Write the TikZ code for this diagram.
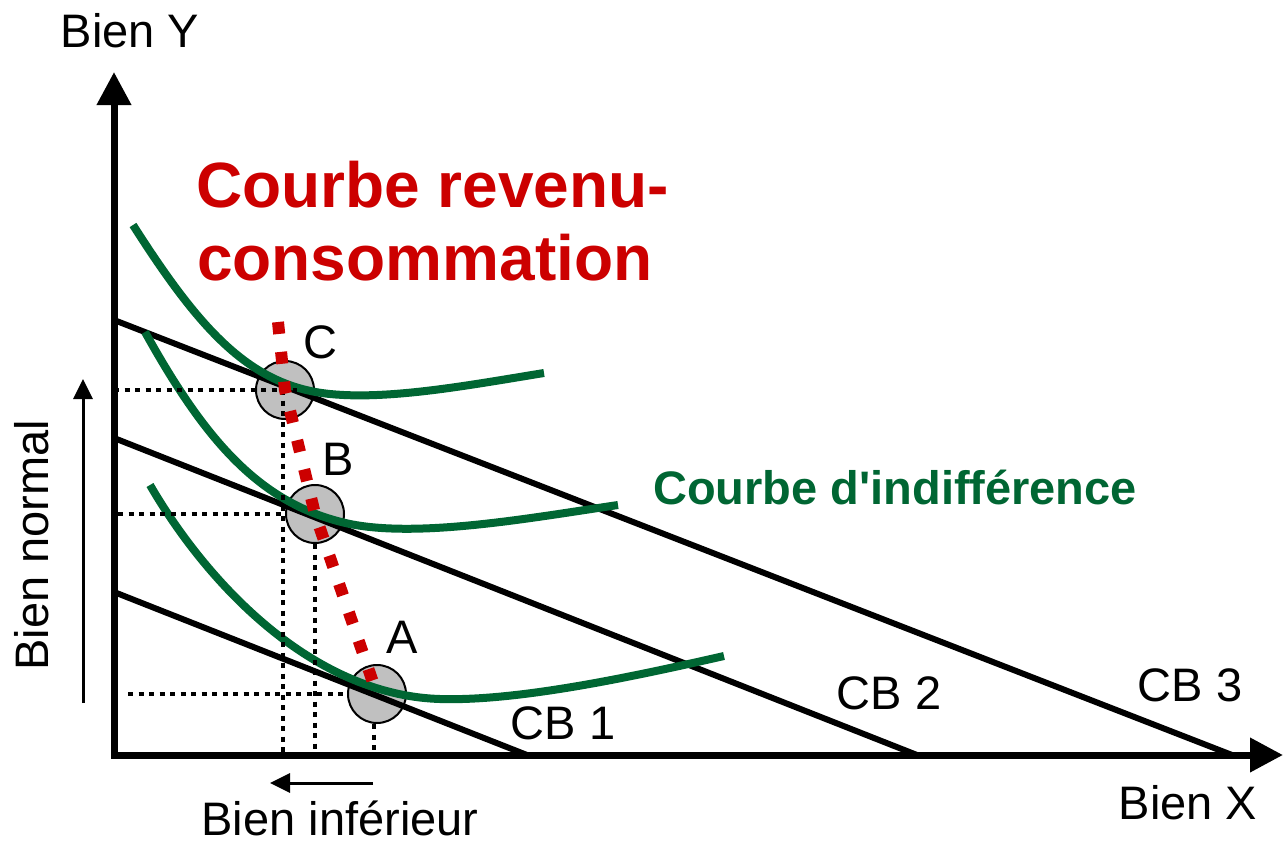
\documentclass[tikz,border=0pt]{standalone}
\usepackage{fontspec}
\setmainfont{Liberation Sans}
\definecolor{crcred}{RGB}{204,0,0}
\definecolor{icgreen}{RGB}{0,102,51}
\definecolor{ptgray}{RGB}{192,192,192}
\usetikzlibrary{arrows.meta,positioning}
\tikzset{
  axis/.style={line width=7pt,line join=miter,
               {Triangle[length=33pt,width=33pt]}-{Triangle[length=33pt,width=33pt]}},
  budget/.style={line width=6pt},
  icurve/.style={line width=8pt,icgreen},
  guide/.style={line width=3.5pt,dash pattern=on 5pt off 5.5pt},
  thinarrow/.style={line width=3pt,-{Triangle[length=20pt,width=19pt]}},
  lbl/.style={inner sep=0pt,font=\fontsize{47}{56}\selectfont},
}

\begin{document}
\begin{tikzpicture}[x=1pt,y=-1pt,
    optimum/.style={circle,draw,fill=ptgray,line width=2pt,
                    minimum size=58pt,inner sep=0pt},
    crcline/.style={line width=12pt,crcred,dash pattern=on 12pt off 18pt},
  ]
  \useasboundingbox (0,0) rectangle (1288,843);

  % axes
  \coordinate (origin) at (114,755);
  \coordinate (ytip)   at (114,72);
  \coordinate (xtip)   at (1283,755);
  \draw[axis] (ytip) -- (origin) -- (xtip);
  \node[lbl] (biensY) at (130,31)  {Bien Y};
  \node[lbl] (biensX) at (1188,803) {Bien X};

  % optima
  \node[optimum] (C) at (285,390) {};
  \node[optimum] (B) at (315,514) {};
  \node[optimum] (A) at (377,694) {};

  % budget lines
  \foreach \y/\x in {592/527,438/917,320/1232}
    \draw[budget] (114,\y) -- (\x,755);
  \node[lbl] (cb1) at (563,723)  {CB 1};
  \node[lbl] (cb2) at (889,693)  {CB 2};
  \node[lbl] (cb3) at (1190,685) {CB 3};

  % indifference curves
  \draw[icurve] (133,225) .. controls (200,330) and (250,386) .. (330,394)
                .. controls (390,400) and (470,385) .. (544,373);
  \draw[icurve] (145,332) .. controls (205,440) and (260,505) .. (350,524)
                .. controls (420,538) and (530,518) .. (618,505);
  \draw[icurve] (150,485) .. controls (205,580) and (310,695) .. (440,699)
                .. controls (520,701.5) and (640,675) .. (724,656);
  \node[inner sep=0pt,icgreen,font=\fontsize{47}{56}\selectfont\bfseries]
    (icname) at (895,487) {Courbe d\textquotesingle indifférence};

  % guides
  \draw[guide] (origin |- C.center) -- ([xshift=12pt]C.center);
  \draw[guide] ([xshift=-2pt]C.center) -- ([xshift=-2pt]C.center |- origin);
  \draw[guide] ([xshift=4pt]origin |- B.center) -- (B.west);
  \draw[guide] (B.south) -- (B.south |- origin);
  \draw[guide] ([xshift=14pt]origin |- A.center) -- (A.west);
  \draw[guide] ([xshift=-3pt]A.south) -- ([xshift=-3pt]A.south |- origin);

  % income-consumption curve
  \coordinate (crctop) at (278,322);
  \draw[crcline] (crctop) -- (C.center) -- (B.center) -- (A.center);
  \node[lbl] (lblC) at (320,342) {C};
  \node[lbl] (lblB) at (338,459) {B};
  \node[lbl] (lblA) at (402,637) {A};
  \node[inner sep=0pt,anchor=base west,crcred,font=\fontsize{64}{72}\selectfont\bfseries]
    (crc1) at (196,207) {Courbe revenu-};
  \node[inner sep=0pt,anchor=base west,crcred,font=\fontsize{64}{72}\selectfont\bfseries]
    (crc2) at (197,280) {consommation};

  % normal / inferior
  \coordinate (nbot) at (83,703);
  \coordinate (ntop) at (83,379);
  \draw[thinarrow] (nbot) -- (ntop);
  \node[lbl,rotate=90] (normal) at (32,545) {Bien normal};
  \coordinate (iright) at (373,783);
  \coordinate (ileft)  at (270,783);
  \draw[thinarrow] (iright) -- (ileft);
  \node[lbl] (inferieur) at (340,818) {Bien inférieur};
\end{tikzpicture}
\end{document}
